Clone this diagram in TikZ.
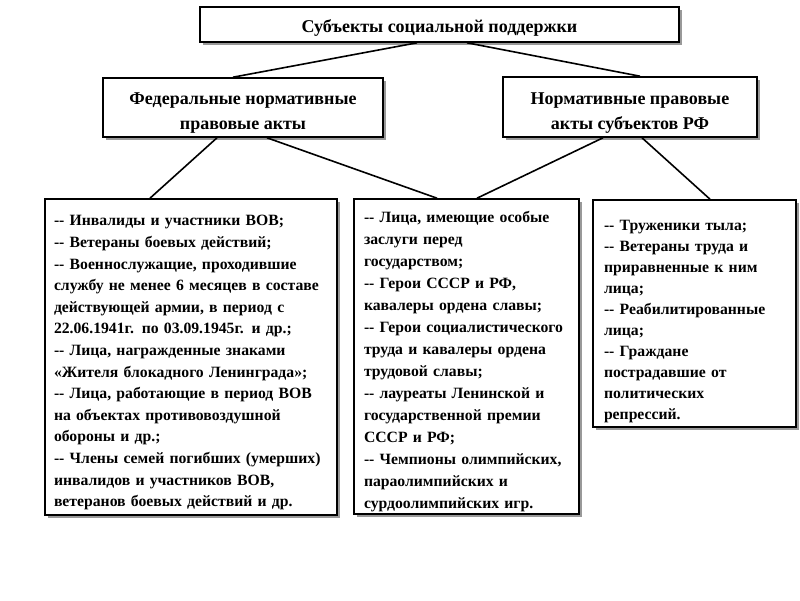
\documentclass[tikz,border=0pt]{standalone}
\usepackage{fontspec}
\setmainfont{Liberation Serif}
\usetikzlibrary{shadows}
\newcommand{\dd}{-{}-}
\begin{document}
\begin{tikzpicture}[x=1pt,y=-1pt,
  box/.style={draw=black, line width=1.6pt, fill=white, inner sep=0pt,
    drop shadow={shadow xshift=3pt, shadow yshift=-3pt, fill=black!40, opacity=1}},
  head/.style={box, align=center, font=\fontsize{18}{25}\selectfont\bfseries},
  list/.style={box, align=left},
  link/.style={line width=1.6pt, black}]
\useasboundingbox (0,0) rectangle (800,600);
\fill[white] (0,0) rectangle (800,600);

\node[head, minimum width=479pt, minimum height=35pt] (top) at (439.5,24.5)
  {\rule{0pt}{20.5pt}Субъекты социальной поддержки};
\node[head, minimum width=280pt, minimum height=59pt] (fed) at (243,107.5)
  {\rule{0pt}{23.5pt}Федеральные нормативные\\правовые акты};
\node[head, minimum width=254pt, minimum height=60pt] (reg) at (630,107)
  {\rule{0pt}{23.5pt}Нормативные правовые\\акты субъектов РФ};

\node[list, font=\fontsize{15.7}{21.6}\selectfont\bfseries, minimum width=292pt, minimum height=316pt, text width=274pt] (b1) at (191,357)
  {\rule{0pt}{22pt}\dd{} Инвалиды и участники ВОВ;\\
   \dd{} Ветераны боевых действий;\\
   \dd{} Военнослужащие, проходившие\\
   службу не менее 6 месяцев в составе\\
   действующей армии, в период с\\
   22.06.1941г. по 03.09.1945г. и др.;\\
   \dd{} Лица, награжденные знаками\\
   «Жителя блокадного Ленинграда»;\\
   \dd{} Лица, работающие в период ВОВ\\
   на объектах противовоздушной\\
   обороны и др.;\\
   \dd{} Члены семей погибших (умерших)\\
   инвалидов и участников ВОВ,\\
   ветеранов боевых действий и др.};

\node[list, font=\fontsize{15.7}{22}\selectfont\bfseries, minimum width=225pt, minimum height=315pt, text width=205pt] (b2) at (466.5,356.5)
  {\rule{0pt}{22pt}\dd{} Лица, имеющие особые\\
   заслуги перед\\
   государством;\\
   \dd{} Герои СССР и РФ,\\
   кавалеры ордена славы;\\
   \dd{} Герои социалистического\\
   труда и кавалеры ордена\\
   трудовой славы;\\
   \dd{} лауреаты Ленинской и\\
   государственной премии\\
   СССР и РФ;\\
   \dd{} Чемпионы олимпийских,\\
   параолимпийских и\\
   сурдоолимпийских игр.};

\node[list, font=\fontsize{15.7}{21}\selectfont\bfseries, minimum width=203pt, minimum height=227pt, text width=181pt] (b3) at (694.5,313.5)
  {\rule{0pt}{25.5pt}\dd{} Труженики тыла;\\
   \dd{} Ветераны труда и\\
   приравненные к ним\\
   лица;\\
   \dd{} Реабилитированные\\
   лица;\\
   \dd{} Граждане\\
   пострадавшие от\\
   политических\\
   репрессий.};

\draw[link] ([xshift=-22.5pt]top.south) -- ([xshift=-10pt]fed.north);
\draw[link] ([xshift=27.5pt]top.south) -- ([xshift=10pt]reg.north);
\draw[link] ([xshift=-26pt]fed.south) -- ([xshift=-41pt]b1.north);
\draw[link] ([xshift=24pt]fed.south) -- ([xshift=-29.5pt]b2.north);
\draw[link] ([xshift=-27pt]reg.south) -- ([xshift=10.5pt]b2.north);
\draw[link] ([xshift=12pt]reg.south) -- ([xshift=15.5pt]b3.north);
\end{tikzpicture}
\end{document}
